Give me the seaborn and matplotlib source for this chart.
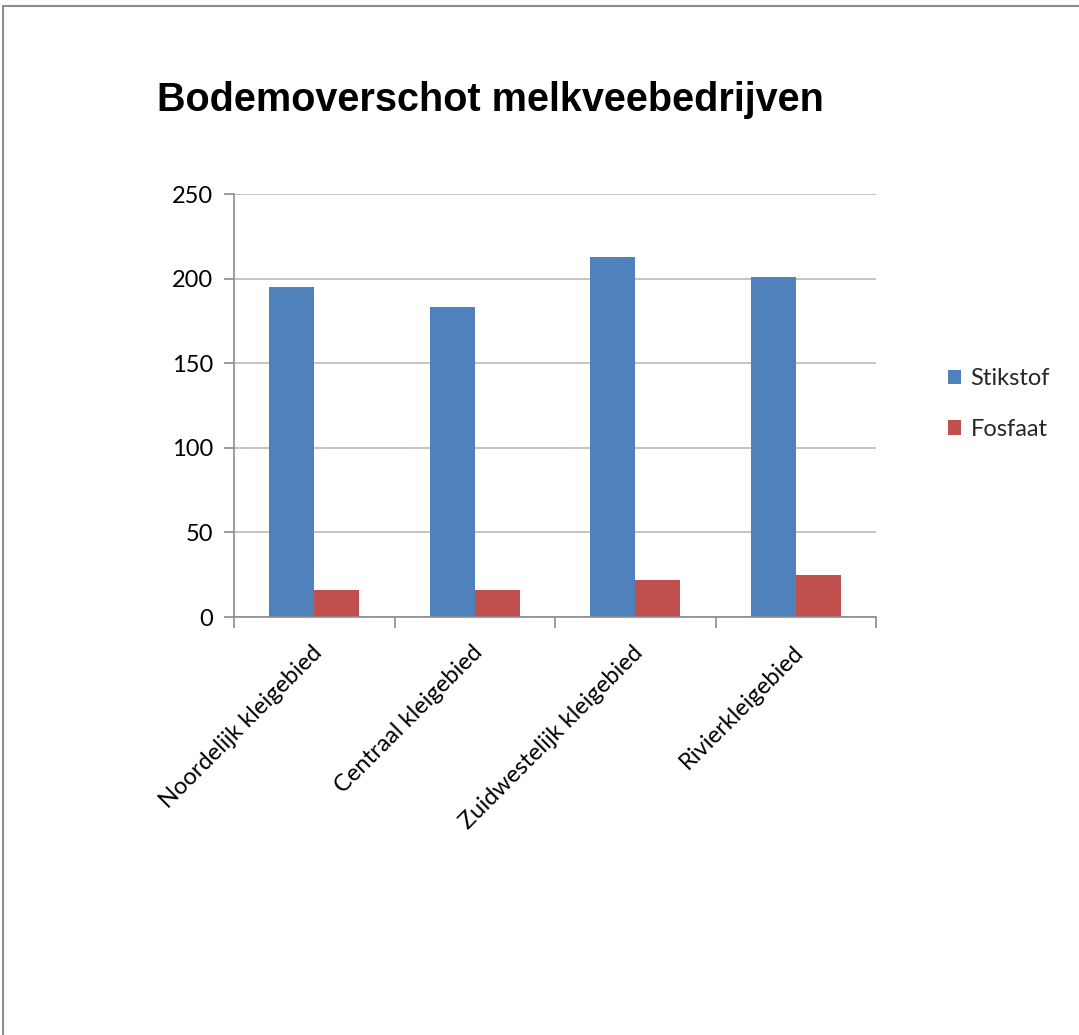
import matplotlib
matplotlib.use("Agg")
import matplotlib.pyplot as plt
import matplotlib.transforms as mtransforms
from matplotlib.patches import Rectangle, Patch
import seaborn as sns
import pandas as pd

categories = ["Noordelijk kleigebied", "Centraal kleigebied", "Zuidwestelijk kleigebied", "Rivierkleigebied"]
stikstof = [195, 183, 213, 201]
fosfaat = [16, 16, 22, 25]
series = ["Stikstof", "Fosfaat"]
colors = ["#4F81BD", "#C0504D"]
yticks = [0, 50, 100, 150, 200, 250]
title = "Bodemoverschot melkveebedrijven"

df = pd.DataFrame({
    "cat": categories * 2,
    "val": stikstof + fosfaat,
    "serie": [series[0]] * len(categories) + [series[1]] * len(categories),
})

sns.set_theme(style="white")
plt.rcParams["font.family"] = ["Lato", "DejaVu Sans"]

fig = plt.figure(figsize=(10.79, 10.35), dpi=100)
fig.patch.set_facecolor("white")
fig.patches.append(Rectangle((3 / 1079, -0.1), 1.2, 1 - 6 / 1035 + 0.1, transform=fig.transFigure,
                             fill=False, edgecolor="#8C8C8C", linewidth=1.5))

ax = fig.add_axes([234 / 1079, 1 - 617 / 1035, 642 / 1079, 423 / 1035])
sns.barplot(data=df, x="cat", y="val", hue="serie", palette=colors, width=0.5625,
            saturation=1, ax=ax, legend=False, linewidth=0, gap=0)

ax.set_ylim(0, 250)
ax.set_xlim(-0.5, len(categories) - 0.5)
ax.set_yticks(yticks)
ax.yaxis.grid(True, color="#BEBEBE", linewidth=1.3)
ax.set_axisbelow(True)
ax.set_xlabel("")
ax.set_ylabel("")
for s in ["top", "right"]:
    ax.spines[s].set_visible(False)
for s in ["left", "bottom"]:
    ax.spines[s].set_color("#8C8C8C")
    ax.spines[s].set_linewidth(1.2)

ax.tick_params(axis="y", direction="out", length=7, color="#8C8C8C", width=1.2,
               labelsize=17, labelcolor="#000000", pad=8, left=True)
ax.set_xticks([i - 0.5 for i in range(len(categories) + 1)], minor=True)
ax.tick_params(axis="x", which="minor", direction="out", length=8, color="#8C8C8C", width=1.2, bottom=True)
ax.tick_params(axis="x", which="major", length=0, labelsize=17, labelcolor="#000000")
ax.set_xticks(range(len(categories)))
ax.set_xticklabels(categories, rotation=45, ha="right", rotation_mode="anchor")
offset = mtransforms.ScaledTranslation(-0.03, -0.2, fig.dpi_scale_trans)
for lbl in ax.get_xticklabels():
    lbl.set_transform(lbl.get_transform() + offset)

fig.text(157 / 1079, 1 - 100 / 1035, title, fontsize=28.5, fontweight="bold",
         family=["Liberation Sans", "DejaVu Sans"], va="center", ha="left", color="#000000")

handles = [Patch(facecolor=c, edgecolor="none") for c in colors]
fig.legend(handles, series, loc="upper left", bbox_to_anchor=(927 / 1079, 1 - 347 / 1035),
           frameon=False, fontsize=17, handlelength=0.55, handleheight=0.55,
           handletextpad=0.4, labelspacing=1.25)

fig.savefig("out.png", dpi=100, facecolor="white")
